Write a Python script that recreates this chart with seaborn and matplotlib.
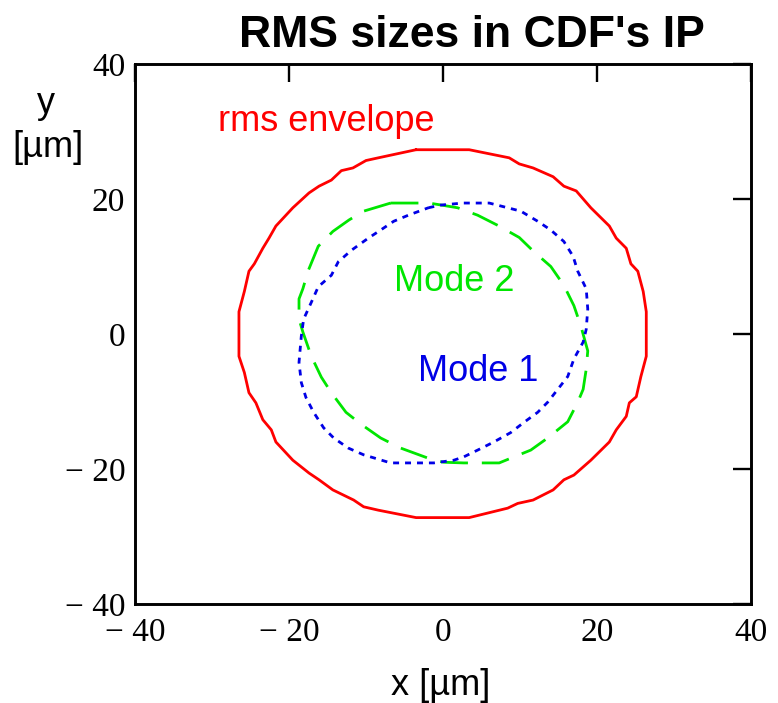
import matplotlib
matplotlib.use("Agg")
import matplotlib.pyplot as plt
import seaborn as sns
import pandas as pd

# ---------------- data ----------------
env_x = [-3.5, 3.4, 8.6, 9.9, 11.7, 14.3, 15.7, 17.3, 19.2, 21.6, 22.5, 23.8, 24.4, 25.3, 26.0, 26.4,
         26.4, 25.7, 25.1, 24.2, 23.8, 22.5, 21.6, 19.2, 17.0, 15.7, 14.3, 11.7, 9.7, 8.4, 3.4,
         -3.5, -8.4, -10.3, -11.6, -14.3, -16.1, -17.4, -19.5, -21.7, -22.3, -23.4, -24.3, -25.2, -25.8, -26.5,
         -26.5, -25.8, -25.2, -24.5, -23.4, -22.6, -21.7, -19.5, -17.4, -16.1, -14.5, -13.2, -11.7, -10.0, -8.4]
env_y = [27.3, 27.3, 26.1, 25.2, 24.6, 23.3, 21.9, 21.2, 18.7, 16.0, 14.2, 12.7, 10.4, 9.3, 6.3, 3.3,
         -3.3, -6.3, -9.3, -10.2, -12.2, -14.2, -16.0, -18.7, -20.9, -21.6, -23.1, -24.6, -25.1, -25.8, -27.2,
         -27.2, -26.1, -25.6, -24.6, -23.1, -21.6, -20.6, -18.7, -16.0, -14.2, -12.7, -10.2, -8.7, -5.7, -3.3,
         3.3, 6.3, 9.3, 10.4, 12.7, 14.2, 16.0, 18.7, 20.9, 21.9, 22.8, 24.2, 24.6, 25.7, 26.1]

mode2_x = [-6.8, -1.8, 1.9, 4.5, 7.1, 9.9, 11.8, 14.0, 15.7, 17.0, 17.9, 18.8, 18.6, 18.2, 17.5, 16.2,
           13.6, 11.4, 8.8, 7.3, 2.7, 0.1, -1.2, -5.5, -8.1, -10.6, -12.6, -14.5, -15.8, -17.1, -18.2,
           -18.7, -18.7, -18.2, -17.5, -16.2, -14.3, -12.2, -10.3]
mode2_y = [19.4, 19.4, 18.7, 17.6, 16.1, 14.3, 12.2, 10.0, 7.2, 4.2, 1.2, -2.5, -5.2, -8.2, -10.1, -13.0,
           -15.4, -17.2, -18.4, -19.1, -19.1, -19.0, -18.7, -16.9, -15.4, -13.4, -11.6, -8.7, -6.4, -3.3, 0.3,
           2.2, 5.2, 6.7, 9.4, 13.0, 15.2, 16.9, 18.2]

mode1_x = [-1.9, -0.3, 2.6, 6.0, 8.4, 10.1, 12.3, 14.0, 15.7, 16.9, 17.5, 18.6, 18.8, 18.6, 18.2, 17.0,
           16.2, 14.9, 13.6, 12.3, 10.5, 8.8, 6.6, 4.5, 2.7, 1.4, -1.2, -6.8, -10.3, -12.3, -14.2, -15.5,
           -16.8, -17.8, -18.4, -18.7, -18.4, -18.1, -16.9, -16.2, -14.5, -13.6, -11.9, -9.7, -8.1, -6.4, -4.5]
mode1_y = [18.7, 19.1, 19.4, 19.4, 18.7, 18.2, 16.7, 15.4, 13.7, 11.5, 9.3, 6.7, 3.7, 0.7, -1.2, -3.7,
           -6.3, -8.2, -10.1, -11.6, -13.1, -14.6, -16.0, -17.2, -18.2, -18.7, -19.1, -19.1, -17.9, -16.9, -15.4, -13.9,
           -11.6, -9.4, -7.2, -4.2, -0.3, 2.2, 5.2, 7.0, 8.7, 10.7, 12.4, 14.2, 15.4, 16.7, 17.6]

tick_values = [-40, -20, 0, 20, 40]
tick_labels = ["\u2212 40", "\u2212 20", "0", "20", "40"]

title_text = "RMS sizes in CDF's IP"
xlabel_text = "x [\u00b5m]"

# ---------------- styling ----------------
sns.set_theme(style="white")
plt.rcParams["font.family"] = ["Liberation Sans", "DejaVu Sans"]
plt.rcParams["lines.scale_dashes"] = False

RED = "#ff0000"
GREEN = "#00e600"
BLUE = "#0000e6"

fig = plt.figure(figsize=(7.78, 7.03), dpi=100)
ax = fig.add_axes([135 / 778, 1 - 604 / 703, (751 - 135) / 778, (604 - 64) / 703])


def closed(xs, ys):
    return pd.DataFrame({"x": list(xs) + [xs[0]], "y": list(ys) + [ys[0]]})


env = closed(env_x, env_y)
m2 = closed(mode2_x, mode2_y)
m1 = closed(mode1_x, mode1_y)

sns.lineplot(data=env, x="x", y="y", sort=False, estimator=None, color=RED, linewidth=2.0, ax=ax)
sns.lineplot(data=m2, x="x", y="y", sort=False, estimator=None, color=GREEN, linewidth=2.0, ax=ax)
ax.lines[-1].set_dashes((20, 10))
sns.lineplot(data=m1, x="x", y="y", sort=False, estimator=None, color=BLUE, linewidth=2.0, ax=ax)
ax.lines[-1].set_dashes((4.3, 4.3))

ax.set_xlim(-40, 40)
ax.set_ylim(-40, 40)
ax.set_xticks(tick_values)
ax.set_yticks(tick_values)
ax.set_xticklabels(tick_labels)
ax.set_yticklabels(tick_labels)
for lab in ax.get_xticklabels() + ax.get_yticklabels():
    lab.set_fontfamily(["Liberation Serif", "DejaVu Serif"])
ax.tick_params(axis="both", direction="in", length=13, width=1.7, top=True, right=True,
               labelsize=24, colors="black", pad=7)
ax.tick_params(axis="x", pad=10)
ax.set_xlabel("")
ax.set_ylabel("")
for s in ax.spines.values():
    s.set_visible(True)
    s.set_color("black")
    s.set_linewidth(2.1)
ax.grid(False)

# text annotations
ax.text(-29.2, 30.1, "rms envelope", color=RED, fontsize=26, ha="left", va="baseline")
ax.text(-6.3, 6.4, "Mode 2", color=GREEN, fontsize=26, ha="left", va="baseline")
ax.text(-3.3, -7.0, "Mode 1", color=BLUE, fontsize=26, ha="left", va="baseline")

fig.text(472 / 778, 1 - 47 / 703, title_text, fontsize=32, fontweight="bold",
         ha="center", va="baseline", color="black")
fig.text(441 / 778, 1 - 695 / 703, xlabel_text, fontsize=26, ha="center", va="baseline", color="black")
fig.text(46 / 778, 1 - 113 / 703, "y", fontsize=26, ha="center", va="baseline", color="black")
fig.text(48 / 778, 1 - 157 / 703, "[\u00b5m]", fontsize=26, ha="center", va="baseline", color="black")

fig.savefig("out.png", dpi=100)
